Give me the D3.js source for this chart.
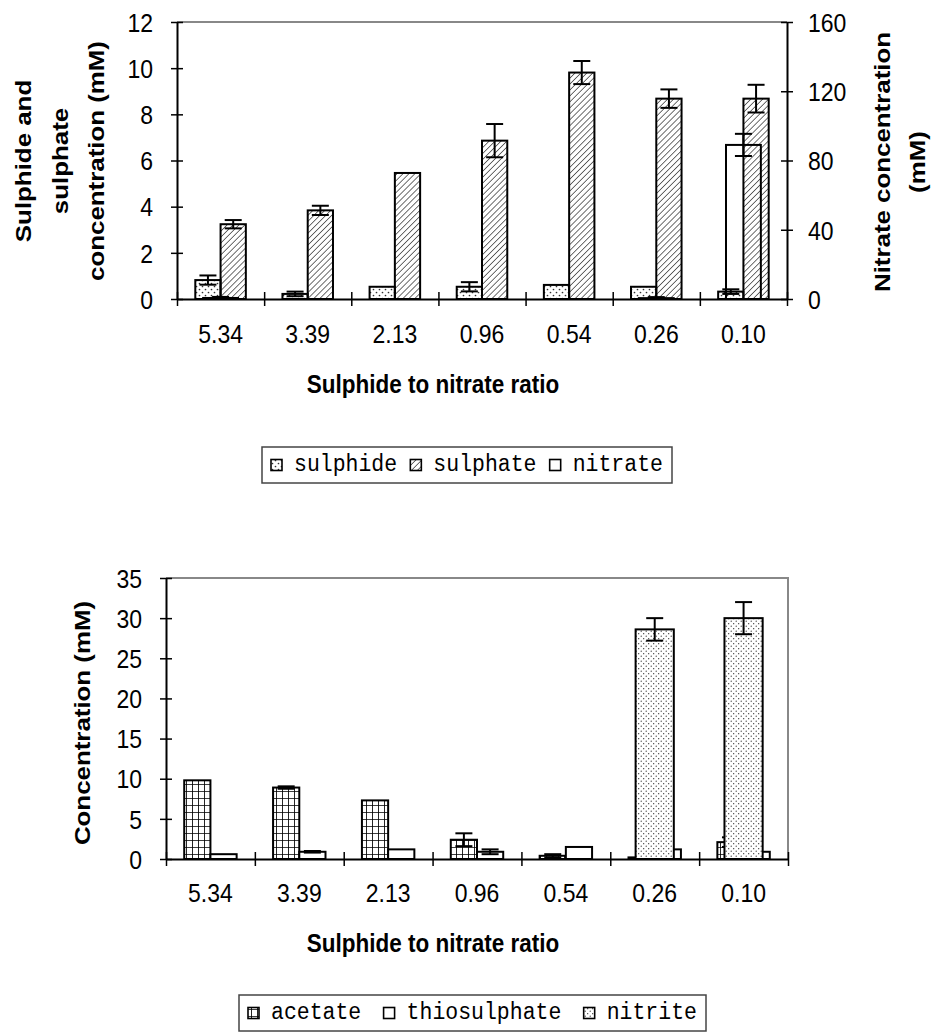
<!DOCTYPE html>
<html>
<head>
<meta charset="utf-8">
<script src="https://cdn.jsdelivr.net/npm/d3@7"></script>
<style>
  body { margin: 0; background: #fff; }
  svg { display: block; }
</style>
</head>
<body>
<div id="chart"></div>
<script>
// ---- data -------------------------------------------------------------
const categories = ["5.34", "3.39", "2.13", "0.96", "0.54", "0.26", "0.10"];

// upper panel: sulphide / sulphate (left axis, mM), nitrate (right axis, mM)
const sulphide     = [0.82, 0.22, 0.53, 0.53, 0.61, 0.53, 0.32];
const sulphideErr  = [0.20, 0.10, 0.00, 0.20, 0.00, 0.00, 0.10];
const sulphate     = [3.24, 3.84, 5.46, 6.86, 9.81, 8.68, 8.68];
const sulphateErr  = [0.18, 0.20, 0.00, 0.72, 0.50, 0.40, 0.60];
const nitrate      = [0.6, 0, 0, 0, 0, 0.5, 89];
const nitrateErr   = [0.6, 0, 0, 0, 0, 0.6, 6.4];

// lower panel: acetate, thiosulphate, nitrite (mM)
const acetate         = [9.8, 8.9, 7.3, 2.4, 0.4, 0.2, 2.1];
const acetateErr      = [0, 0.15, 0, 0.8, 0.2, 0, 0.6];
const thiosulphate    = [0.6, 0.9, 1.2, 0.9, 1.5, 1.2, 0.9];
const thiosulphateErr = [0, 0.1, 0, 0.3, 0, 0, 0];
const nitrite         = [0, 0, 0, 0, 0, 28.6, 30.0];
const nitriteErr      = [0, 0, 0, 0, 0, 1.4, 2.0];

// tick labels
const sulphurTicks = [0, 2, 4, 6, 8, 10, 12];
const nitrateTicks = [0, 40, 80, 120, 160];
const concTicks    = [0, 5, 10, 15, 20, 25, 30, 35];

// ---- page -------------------------------------------------------------
const W = 932, H = 1034;
const SANS = "'Liberation Sans', Arial, sans-serif";
const MONO = "'Liberation Mono', 'Courier New', monospace";
const TICK_SIZE = 23;      // tick label font size
const TITLE_SIZE = 22.5;   // axis title font size
const KY = 1.15;           // text is drawn a little taller than wide

const svg = d3.select("#chart").append("svg")
  .attr("width", W).attr("height", H);
svg.append("rect").attr("width", W).attr("height", H).attr("fill", "#fff");

const defs = svg.append("defs");

// fill patterns
const pDots = defs.append("pattern").attr("id", "dotsSparse")
  .attr("patternUnits", "userSpaceOnUse").attr("width", 6).attr("height", 6);
pDots.append("rect").attr("width", 6).attr("height", 6).attr("fill", "#fff");
pDots.append("circle").attr("cx", 1.5).attr("cy", 1.5).attr("r", 0.85).attr("fill", "#333");
pDots.append("circle").attr("cx", 4.5).attr("cy", 4.5).attr("r", 0.85).attr("fill", "#333");

const pHatch = defs.append("pattern").attr("id", "hatch")
  .attr("patternUnits", "userSpaceOnUse").attr("width", 4.2).attr("height", 4.2)
  .attr("patternTransform", "rotate(45)");
pHatch.append("line").attr("x1", 0).attr("y1", 0).attr("x2", 0).attr("y2", 4.2)
  .attr("stroke", "#222").attr("stroke-width", 1.3);

const pGrid = defs.append("pattern").attr("id", "grid")
  .attr("patternUnits", "userSpaceOnUse").attr("width", 6).attr("height", 7);
pGrid.append("rect").attr("width", 6).attr("height", 7).attr("fill", "#fff");
pGrid.append("path").attr("d", "M0,0V7M0,0H6").attr("stroke", "#000").attr("stroke-width", 1.7);

const pDense = defs.append("pattern").attr("id", "dotsDense")
  .attr("patternUnits", "userSpaceOnUse").attr("width", 5).attr("height", 5);
pDense.append("rect").attr("width", 5).attr("height", 5).attr("fill", "#fff");
pDense.append("circle").attr("cx", 1.2).attr("cy", 1.2).attr("r", 0.6).attr("fill", "#222");
pDense.append("circle").attr("cx", 3.7).attr("cy", 3.7).attr("r", 0.6).attr("fill", "#222");

// ---- helpers ----------------------------------------------------------
function drawBars(g, x, y, values, errs, offset, widthFrac, fill) {
  const bw = x.bandwidth();
  const w = bw * widthFrac;
  const bx = (d, i) => x(categories[i]) + bw / 2 + offset * w;
  g.append("g").selectAll("rect").data(values).join("rect")
    .attr("x", bx)
    .attr("y", d => y(d))
    .attr("width", w)
    .attr("height", d => y(0) - y(d))
    .attr("fill", fill)
    .attr("stroke", "#000").attr("stroke-width", 2);
  const eg = g.append("g").attr("stroke", "#000").attr("stroke-width", 2);
  values.forEach((v, i) => {
    const e = errs[i];
    if (!e) return;
    const cx = bx(v, i) + w / 2;
    const hi = y(v + e), lo = y(Math.max(0, v - e));
    eg.append("line").attr("x1", cx).attr("x2", cx).attr("y1", hi).attr("y2", lo);
    eg.append("line").attr("x1", cx - 8.5).attr("x2", cx + 8.5).attr("y1", hi).attr("y2", hi);
    eg.append("line").attr("x1", cx - 8.5).attr("x2", cx + 8.5).attr("y1", lo).attr("y2", lo);
  });
}

function styleAxis(g) {
  g.attr("font-size", null).attr("font-family", null);
  g.selectAll(".domain").attr("stroke", "#000").attr("stroke-width", 2);
  g.selectAll(".tick line").attr("stroke", "#000").attr("stroke-width", 1.5);
  g.selectAll("text").attr("font-family", SANS).attr("font-size", TICK_SIZE).attr("fill", "#000");
}

function categoryAxis(g, x, baseline, labelY) {
  const [x0, x1] = x.range();
  const edge = d3.scaleLinear().domain([0, categories.length]).range([x0, x1]);
  const ax = g.append("g").attr("transform", `translate(0,${baseline})`)
    .call(d3.axisBottom(edge).tickValues(d3.range(categories.length + 1))
      .tickFormat("").tickSize(7).tickSizeOuter(0));
  ax.selectAll(".tick line").attr("y1", -7);
  styleAxis(ax);
  const lab = g.append("g").attr("transform", `translate(0,${baseline})`)
    .call(d3.axisBottom(x).tickSize(0).tickPadding(0));
  lab.select(".domain").remove();
  styleAxis(lab);
  lab.selectAll("text").attr("y", 0).attr("dy", "0.35em")
    .attr("transform", `translate(0,${labelY}) scale(1,${KY})`);
}

function valueAxis(g, y, xPos, ticks, side, labelX) {
  const axis = side === "left" ? d3.axisLeft(y) : d3.axisRight(y);
  const ax = g.append("g").attr("transform", `translate(${xPos},0)`)
    .call(axis.tickValues(ticks).tickSize(6).tickSizeOuter(0));
  ax.selectAll(".tick line").attr("x1", side === "left" ? 6 : -6);
  styleAxis(ax);
  ax.selectAll("text").attr("x", labelX).attr("dy", "0.35em")
    .attr("transform", `scale(1,${KY})`);
}

function rotatedTitle(g, lines, cxs, cy) {
  lines.forEach((t, i) => {
    g.append("text")
      .attr("transform", `translate(${cxs[i]},${cy}) rotate(-90) scale(${KY},1)`)
      .attr("text-anchor", "middle").attr("dominant-baseline", "central")
      .attr("font-family", SANS).attr("font-weight", "bold").attr("font-size", TITLE_SIZE)
      .text(t);
  });
}

function hTitle(g, t, cx, cy) {
  g.append("text").attr("transform", `translate(${cx},${cy}) scale(1,${KY})`)
    .attr("text-anchor", "middle").attr("dominant-baseline", "central")
    .attr("font-family", SANS).attr("font-weight", "bold").attr("font-size", TITLE_SIZE)
    .text(t);
}

// legend: items spread across a box of given width
function legend(g, items, x, y, w, h) {
  const lg = g.append("g").attr("transform", `translate(${x},${y})`);
  lg.append("rect").attr("width", w).attr("height", h)
    .attr("fill", "#fff").attr("stroke", "#444").attr("stroke-width", 1.5);
  const pad = 9, mk = 11, mkGap = 12;
  const texts = items.map(it => lg.append("text")
    .attr("dominant-baseline", "central")
    .attr("font-family", MONO).attr("font-size", 21.5).attr("fill", "#000")
    .text(it.label));
  const lens = texts.map(t => t.node().getComputedTextLength());
  const used = d3.sum(lens) + items.length * (mk + mkGap) + 2 * pad;
  const gap = (w - used) / (items.length - 1);
  let cx = pad;
  items.forEach((it, i) => {
    lg.append("rect").attr("x", cx).attr("y", h / 2 - 5.5).attr("width", mk).attr("height", mk)
      .attr("fill", it.fill).attr("stroke", "#000").attr("stroke-width", 1.6);
    texts[i].attr("transform", `translate(${cx + mk + mkGap},${h / 2}) scale(1,${KY})`);
    cx += mk + mkGap + lens[i] + gap;
  });
}

// ---- upper panel ------------------------------------------------------
{
  const P = { x0: 177, x1: 787, y0: 22, y1: 299 };
  const g = svg.append("g");
  const x = d3.scaleBand().domain(categories).range([P.x0, P.x1]);
  const yS = d3.scaleLinear().domain([0, 12]).range([P.y1, P.y0]);
  const yN = d3.scaleLinear().domain([0, 160]).range([P.y1, P.y0]);

  g.append("line").attr("x1", P.x0).attr("x2", P.x1).attr("y1", P.y0).attr("y2", P.y0)
    .attr("stroke", "#888").attr("stroke-width", 2);

  drawBars(g, x, yS, sulphide, sulphideErr, -1, 0.29, "url(#dotsSparse)");
  drawBars(g, x, yS, sulphate, sulphateErr, 0, 0.29, "url(#hatch)");
  drawBars(g, x, yN, nitrate, nitrateErr, -0.5, 0.40, "none");

  categoryAxis(g, x, P.y1, 35);
  valueAxis(g, yS, P.x0, sulphurTicks, "left", -24);
  valueAxis(g, yN, P.x1, nitrateTicks, "right", 21);

  rotatedTitle(g, ["Sulphide and", "sulphate", "concentration (mM)"], [23, 60, 96], 161);
  rotatedTitle(g, ["Nitrate concentration", "(mM)"], [882, 917], 162);
  hTitle(g, "Sulphide to nitrate ratio", 433, 384);

  legend(g, [
    { label: "sulphide", fill: "url(#dotsSparse)" },
    { label: "sulphate", fill: "url(#hatch)" },
    { label: "nitrate", fill: "#fff" }
  ], 262, 447, 410, 36);
}

// ---- lower panel ------------------------------------------------------
{
  const P = { x0: 166, x1: 788, y0: 578, y1: 859 };
  const g = svg.append("g");
  const x = d3.scaleBand().domain(categories).range([P.x0, P.x1]);
  const y = d3.scaleLinear().domain([0, 35]).range([P.y1, P.y0]);

  g.append("path").attr("d", `M${P.x0},${P.y0}H${P.x1}V${P.y1}`)
    .attr("fill", "none").attr("stroke", "#888").attr("stroke-width", 2);

  drawBars(g, x, y, acetate, acetateErr, -1, 0.295, "url(#grid)");
  drawBars(g, x, y, thiosulphate, thiosulphateErr, 0, 0.295, "#fff");
  drawBars(g, x, y, nitrite, nitriteErr, -0.5, 0.43, "url(#dotsDense)");

  categoryAxis(g, x, P.y1, 34);
  valueAxis(g, y, P.x0, concTicks, "left", -24);

  rotatedTitle(g, ["Concentration (mM)"], [82], 723);
  hTitle(g, "Sulphide to nitrate ratio", 433, 943);

  legend(g, [
    { label: "acetate", fill: "url(#grid)" },
    { label: "thiosulphate", fill: "#fff" },
    { label: "nitrite", fill: "url(#dotsDense)" }
  ], 239, 995, 467, 36);
}
</script>
</body>
</html>
